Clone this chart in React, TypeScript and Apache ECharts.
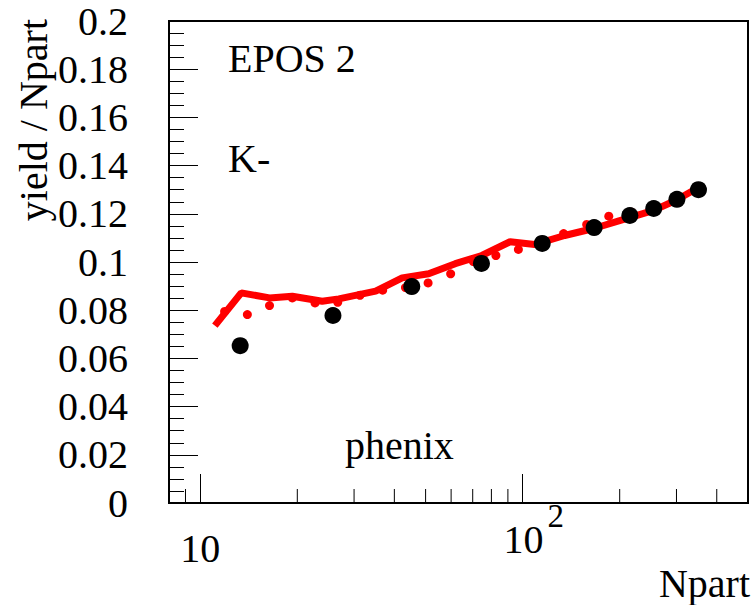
import React, { useEffect, useRef } from "react";
import * as echarts from "echarts";

// Black markers: data (phenix)
const dataX = [13.3, 25.8, 45.3, 74.5, 115, 166.6, 215, 255, 301, 351];
const dataY = [0.0653, 0.0778, 0.0898, 0.0994, 0.1077, 0.1143, 0.1193, 0.1222, 0.126, 0.130];

// Red line: EPOS 2
const lineX = [11.1, 13.4, 16.4, 19.3, 23.9, 26.9, 35.0, 42.3, 51.1, 61.8, 74.7, 91.4, 109, 135, 166, 216, 255, 299, 351];
const lineY = [0.0736, 0.0872, 0.0851, 0.0858, 0.0837, 0.0847, 0.0879, 0.0934, 0.0951, 0.0993, 0.1027, 0.1084, 0.1073, 0.111, 0.1139, 0.1185, 0.1214, 0.1256, 0.1309];

// Red dots: EPOS 2 (second curve)
const dotX = [11.9, 14.0, 16.4, 19.3, 22.7, 26.7, 31.3, 36.8, 43.3, 50.9, 59.8, 70.3, 82.6, 97.0, 114, 134, 158, 185, 218, 256, 301, 353];
const dotY = [0.0795, 0.0782, 0.0819, 0.0851, 0.083, 0.0833, 0.0862, 0.0883, 0.0894, 0.0913, 0.0951, 0.1002, 0.1027, 0.1052, 0.1081, 0.1118, 0.1156, 0.119, 0.1206, 0.1227, 0.1264, 0.1301];

// Minor ticks on the log x axis
const xMinorTicks = [9, 20, 30, 40, 50, 60, 70, 80, 90, 200, 300, 400];

const FONT = "Liberation Serif";

export default function App() {
  const ref = useRef<HTMLDivElement>(null);
  useEffect(() => {
    if (!ref.current) return;
    const chart = echarts.init(ref.current, null, { renderer: "svg" });
    chart.setOption({
      animation: false,
      backgroundColor: "#ffffff",
      grid: {
        left: 169,
        right: 1,
        top: 21,
        bottom: 102,
        show: true,
        borderColor: "#000",
        borderWidth: 2,
        backgroundColor: "transparent",
      },
      xAxis: {
        type: "log",
        logBase: 10,
        min: 8,
        max: 500,
        axisLine: { show: true, lineStyle: { color: "#000", width: 2 } },
        axisTick: { show: true, inside: true, length: 29, lineStyle: { color: "#000", width: 1 } },
        minorTick: { show: false },
        splitLine: { show: false },
        axisLabel: {
          margin: -4,
          color: "#000",
          fontFamily: FONT,
          fontSize: 40,
          formatter: (v: number) => {
            const e = Math.log10(v);
            if (Math.abs(e - Math.round(e)) > 1e-6) return "";
            const r = Math.round(e);
            if (r === 1) return "{c|10}";
            if (r === 2) return "{p|}{a|10}{s|2}";
            return "";
          },
          rich: {
            c: { fontFamily: FONT, fontSize: 40, color: "#000", verticalAlign: "top", padding: [29, 0, 0, 0] },
            a: { fontFamily: FONT, fontSize: 40, color: "#000", verticalAlign: "top", padding: [20, 0, 0, 0] },
            p: { width: 22 },
            s: { fontFamily: FONT, fontSize: 33, color: "#000", verticalAlign: "top", padding: [0, 0, 0, 4] },
          },
        },
      },
      yAxis: {
        type: "value",
        min: 0,
        max: 0.2,
        interval: 0.02,
        axisLine: { show: true, lineStyle: { color: "#000", width: 2 } },
        axisTick: { show: true, inside: true, length: 29, lineStyle: { color: "#000", width: 1 } },
        minorTick: { show: true, splitNumber: 4, length: 15, lineStyle: { color: "#000", width: 1 } },
        splitLine: { show: false },
        axisLabel: {
          margin: 41,
          color: "#000",
          fontFamily: FONT,
          fontSize: 40,
          formatter: (v: number) => String(parseFloat(v.toFixed(3))),
        },
      },
      graphic: [
        {
          type: "text",
          x: 33,
          y: 19,
          rotation: Math.PI / 2,
          style: {
            text: "yield / Npart",
            fontFamily: FONT,
            fontSize: 40,
            fill: "#000",
            align: "right",
            verticalAlign: "middle",
          },
        },
        {
          type: "text",
          x: 750,
          y: 583,
          style: { text: "Npart", fontFamily: FONT, fontSize: 40, fill: "#000", align: "right", verticalAlign: "middle" },
        },
        {
          type: "text",
          x: 228,
          y: 58,
          style: { text: "EPOS 2", fontFamily: FONT, fontSize: 40, fill: "#000", align: "left", verticalAlign: "middle" },
        },
        {
          type: "text",
          x: 228,
          y: 158,
          style: { text: "K-", fontFamily: FONT, fontSize: 40, fill: "#000", align: "left", verticalAlign: "middle" },
        },
        {
          type: "text",
          x: 345,
          y: 445,
          style: { text: "phenix", fontFamily: FONT, fontSize: 40, fill: "#000", align: "left", verticalAlign: "middle" },
        },
      ],
      series: [
        {
          type: "custom",
          silent: true,
          clip: false,
          data: xMinorTicks.map((v) => [v, 0]),
          encode: { x: 0, y: 1 },
          renderItem: (_params: any, api: any) => {
            const p = api.coord([api.value(0), 0]);
            return {
              type: "line",
              shape: { x1: p[0], y1: p[1], x2: p[0], y2: p[1] - 14 },
              style: { stroke: "#000", lineWidth: 1 },
            };
          },
          z: 1,
        },
        {
          type: "line",
          data: lineX.map((x, i) => [x, lineY[i]]),
          symbol: "none",
          lineStyle: { color: "#ff0000", width: 7 },
          z: 2,
        },
        {
          type: "scatter",
          data: dotX.map((x, i) => [x, dotY[i]]),
          symbol: "circle",
          symbolSize: 9,
          itemStyle: { color: "#ff0000", opacity: 1 },
          z: 3,
        },
        {
          type: "scatter",
          data: dataX.map((x, i) => [x, dataY[i]]),
          symbol: "circle",
          symbolSize: 17,
          itemStyle: { color: "#000000", opacity: 1 },
          z: 4,
        },
      ],
    });
    return () => chart.dispose();
  }, []);
  return (
    <div
      ref={ref}
      style={{ position: "fixed", left: 0, top: 0, width: 751, height: 605, background: "#fff" }}
    />
  );
}
